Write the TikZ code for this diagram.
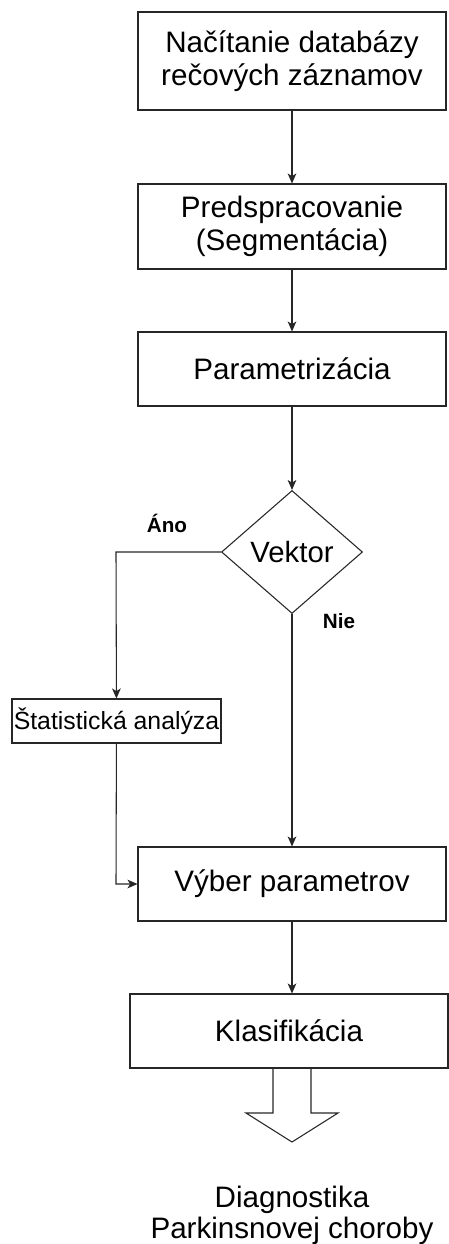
\documentclass[tikz,border=0pt]{standalone}
\usepackage{fontspec}
\setmainfont{Liberation Sans}
\usetikzlibrary{shapes.geometric,arrows.meta}

\tikzset{
  krok/.style={draw=black!85, line width=0.8pt, rectangle, align=center, inner sep=0pt,
    font=\fontsize{22.2}{24.5}\selectfont},
  rozhod/.style={draw=black!85, line width=0.8pt, diamond, inner sep=0pt,
    minimum width=105.75pt, minimum height=92.25pt, font=\fontsize{22}{24}\selectfont},
  vetva/.style={font=\bfseries\fontsize{15.5}{18}\selectfont},
  tok/.style={draw=black!85, line width=0.8pt, -{Stealth[length=7.5pt,width=6.5pt,inset=2pt]}}
}

\begin{document}
\begin{tikzpicture}[x=0.75pt, y=-0.75pt]
      \useasboundingbox (0, 0) rectangle (449, 1244);
      % kroky spracovania
      \node (nacitanie) [krok, minimum width=231pt, minimum height=73.5pt] at (292, 61)
            {Načítanie databázy\\rečových záznamov};
      \node (predsprac) [krok, minimum width=231pt, minimum height=63.75pt] at (292, 226.5)
            {Predspracovanie\\(Segmentácia)};
      \node (param) [krok, minimum width=231pt, minimum height=55.5pt] at (292, 369)
            {Parametrizácia};
      \node (vektor) [rozhod] at (292, 552) {Vektor};
      \node (stat) [krok, minimum width=156.75pt, minimum height=33pt] at (116.5, 721)
            {\fontsize{18.6}{22}\selectfont Štatistická analýza};
      \node (vyber) [krok, minimum width=231pt, minimum height=55.5pt] at (292, 884)
            {Výber parametrov};
      \node (klasif) [krok, minimum width=238.5pt, minimum height=55.5pt] at (289, 1031)
            {Klasifikácia};
      \node (diag) [align=center, font=\fontsize{22.2}{23}\selectfont] at (292, 1215)
            {Diagnostika\\Parkinsnovej choroby};
      % popisy vetiev
      \node (ano) [vetva] at (167, 523) {Áno};
      \node (nie) [vetva] at (339, 621) {Nie};
      % spojnice
      \coordinate (ohyb1) at (116, 552);
      \coordinate (ohyb2) at (116, 884);
      \draw[tok] (nacitanie) -- (predsprac);
      \draw[tok] (predsprac) -- (param);
      \draw[tok] (param) -- (vektor);
      \draw[tok] (vektor.west) -- (ohyb1) -- (stat);
      \draw[tok] (vektor.south) -- (vyber.north);
      \draw[tok] (stat) -- (ohyb2) -- (vyber.west);
      \draw[tok] (vyber.south) -- (vyber.south |- klasif.north);
      % vysledna sipka
      \draw[draw=black!85, line width=0.8pt]
            (273, 1068) -- (273, 1113) -- (246, 1113) -- (292, 1142)
            -- (338, 1113) -- (311, 1113) -- (311, 1068);
\end{tikzpicture}
\end{document}
